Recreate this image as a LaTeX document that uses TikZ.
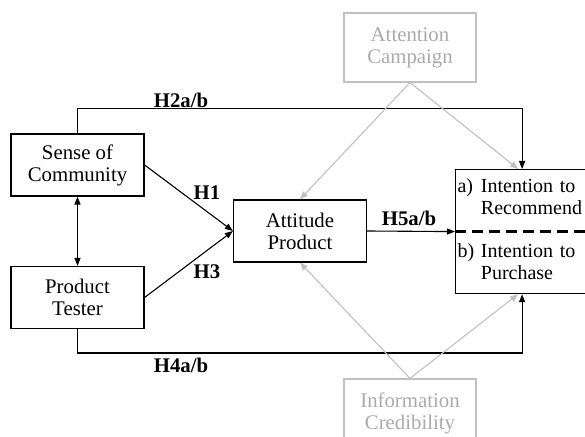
\documentclass[tikz,border=0pt]{standalone}
\usepackage{fontspec}
\setmainfont{Liberation Serif}
\usetikzlibrary{arrows.meta}
\definecolor{faded}{RGB}{192,192,192}
\definecolor{fadedtext}{RGB}{170,170,170}

\begin{document}
\begin{tikzpicture}[x=0.5pt,y=-0.5pt,
  construct/.style={draw,line width=0.6pt,minimum width=66.5pt,minimum height=31pt,
    align=center,font=\fontsize{10.4}{11}\selectfont},
  moderator/.style={construct,draw=faded,text=fadedtext,minimum width=66pt,minimum height=34.5pt},
  link/.style={line width=0.55pt,-{Triangle[length=4pt,width=3pt]}},
  modlink/.style={link,draw=faded},
  hyp/.style={inner sep=1pt,font=\fontsize{10.4}{11}\selectfont\bfseries}]
  \clip (0,0) rectangle (585,437);

  % constructs
  \node[construct] (community) at (77.5,165) {Sense of\\Community};
  \node[construct] (tester) at (77.5,297.5) {Product\\Tester};
  \node[construct] (attitude) at (300,231) {Attitude\\Product};
  \node[construct,anchor=north west,minimum height=62pt,text width=64.5pt,inner xsep=1pt,align=left,
    font=\fontsize{10}{11}\selectfont] (intention) at (455,169) {%
    \begin{tabular}{@{}l@{\ }l@{}}
      a) & Intention to\\
         & Recommend\\[10.5pt]
      b) & Intention to\\
         & Purchase
    \end{tabular}};
  \draw[line width=1.4pt,dash pattern=on 5.5pt off 3pt] (intention.west) -- (intention.east);

  % moderators
  \node[moderator] (attention) at (410,47.5) {Attention\\Campaign};
  \node[moderator] (credibility) at (410,413.5) {Information\\Credibility};

  \coordinate (h2line) at (0,108.5);
  \coordinate (h4line) at (0,353);

  % hypotheses
  \draw[link,{Triangle[length=4pt,width=3pt]}-{Triangle[length=4pt,width=3pt]}] (community.south) -- (tester.north);
  \draw[link] (community.east) -- (attitude.west);
  \draw[link] (tester.east) -- (attitude.west);
  \draw[link] (attitude.east) -- (intention.west);
  \draw[link] (community.north) |- (intention.north |- h2line) -- (intention.north);
  \draw[link] (tester.south) |- (intention.south |- h4line) -- (intention.south);

  \node[hyp] (h1) at (207,193) {H1};
  \node[hyp] (h3) at (207,272) {H3};
  \node[hyp] (h2) at (181,100) {H2a/b};
  \node[hyp] (h4) at (181,365) {H4a/b};
  \node[hyp] (h5) at (409,218) {H5a/b};

  % moderating paths
  \draw[modlink] (attention.south) -- (attitude.north);
  \draw[modlink] (attention.south) -- ([xshift=-2pt]intention.north);
  \draw[modlink] (credibility.north) -- (attitude.south);
  \draw[modlink] (credibility.north) -- ([xshift=-2pt]intention.south);
\end{tikzpicture}
\end{document}
